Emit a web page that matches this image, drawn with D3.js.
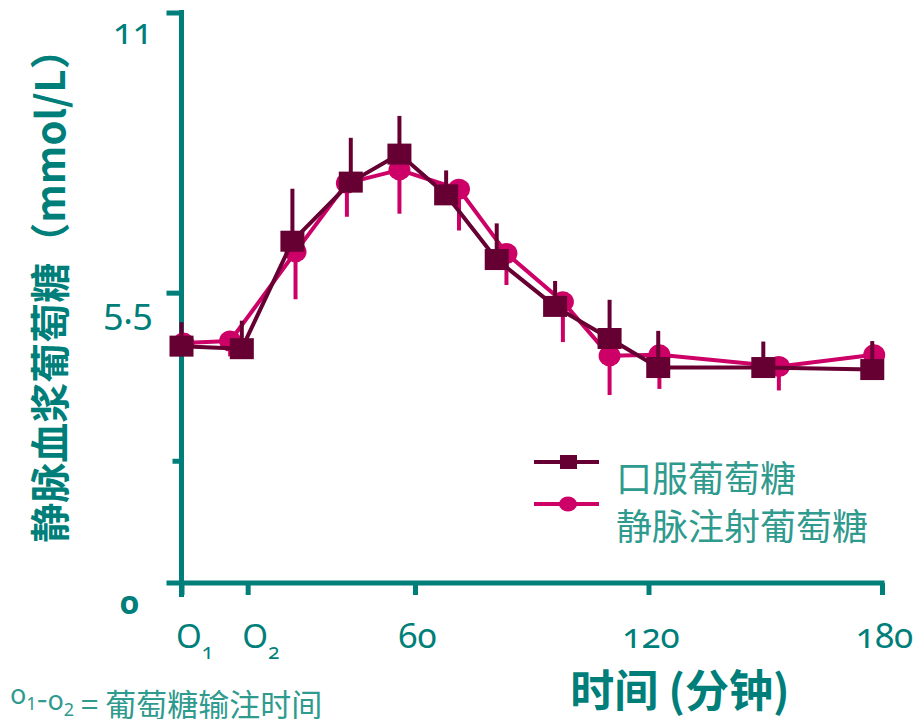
<!DOCTYPE html>
<html>
<head>
<meta charset="utf-8">
<script src="https://cdn.jsdelivr.net/npm/d3@7/dist/d3.min.js"></script>
<style>
  html, body { margin: 0; padding: 0; background: #ffffff; }
  svg { display: block; }
  .num { font-family: "Noto Sans", "Open Sans", sans-serif; font-feature-settings: "onum" 1; font-variant-numeric: oldstyle-nums; }
  .cjk { font-family: "Noto Sans CJK SC", "Noto Sans", sans-serif; }
</style>
</head>
<body>
<svg id="chart" width="916" height="719"></svg>
<script>
// Venous plasma glucose over time: oral glucose vs. intravenous glucose
const seriesNames = ["口服葡萄糖", "静脉注射葡萄糖"];

// Oral glucose (minutes, mmol/L, upward error)
const oralTime  = [0, 15.5, 28.5, 43.5, 56, 68, 81, 96, 110, 122.5, 149.5, 177.5];
const oralValue = [4.45, 4.40, 6.51, 7.67, 8.22, 7.42, 6.15, 5.23, 4.60, 4.03, 4.03, 3.99];
const oralError = [0.47, 0.55, 1.03, 0.87, 0.75, 0.48, 0.71, 0.50, 0.76, 0.72, 0.51, 0.56];

// Intravenous glucose (minutes, mmol/L, downward error)
const ivTime  = [0.5, 12.5, 29.3, 42.5, 56, 71.3, 83.5, 98, 110, 122.8, 153.5, 178];
const ivValue = [4.51, 4.55, 6.30, 7.65, 7.91, 7.53, 6.27, 5.32, 4.26, 4.28, 4.05, 4.28];
const ivError = [0.25, 0.30, 0.93, 0.66, 0.86, 0.81, 0.62, 0.79, 0.77, 0.67, 0.47, 0.30];

// Axis ticks
const xTickValues = [0, 17, 60, 120, 180];
const xTickLabels = ["O_1", "O_2", "60", "120", "180"];
const yTickValues = [2.2, 5.5, 11];
const yTickLabels = ["", "5.5", "11"];
const yFloor = -0.2;

const axisTitleY = "静脉血浆葡萄糖（mmol/L）";
const axisTitleX = "时间 (分钟)";
const infusionNote = ["o_1", "-", "o_2", " = ", "葡萄糖输注时间"];

const teal = "#007f7a";
const noteTeal = "#2f9a8e";
const colOral = "#660033";
const colIv = "#cc0066";

const svg = d3.select("#chart");
svg.append("rect").attr("width", 916).attr("height", 719).attr("fill", "#fff");

const x = d3.scaleLinear().domain([0, 180]).range([181.5, 882]);
const y = d3.scaleLinear().domain([yFloor, 11]).range([583, 12.5]);

const oral = oralTime.map((t, i) => ({ t, v: oralValue[i], e: oralError[i] }));
const iv = ivTime.map((t, i) => ({ t, v: ivValue[i], e: ivError[i] }));

// ---- axes ----
const axes = svg.append("g");
const x0 = x(0), yBase = y(yFloor);

// y axis line (runs slightly below the x axis)
axes.append("line").attr("x1", x0).attr("x2", x0).attr("y1", y(11) - 2.5).attr("y2", yBase + 14)
  .attr("stroke", teal).attr("stroke-width", 5);
// x axis line (starts slightly left of the y axis)
axes.append("line").attr("x1", x0 - 15).attr("x2", x(180) + 2.5).attr("y1", yBase).attr("y2", yBase)
  .attr("stroke", teal).attr("stroke-width", 5);

// y ticks
const yAxis = d3.axisLeft(y).tickValues(yTickValues).tickSize(15).tickSizeOuter(0).tickFormat("");
const gy = axes.append("g").attr("transform", `translate(${x0},0)`).call(yAxis);
gy.select(".domain").remove();
gy.selectAll(".tick line").attr("stroke", teal).attr("stroke-width", 5)
  .attr("x2", (d, i) => yTickLabels[i] === "" ? -9 : -15);

gy.selectAll(".tick").append("text")
  .attr("class", "num")
  .attr("x", -29).attr("dy", 31)
  .attr("text-anchor", "end")
  .attr("fill", teal).attr("font-size", 36)
  .text((d, i) => yTickLabels[i]);

// x ticks
const xAxis = d3.axisBottom(x).tickValues(xTickValues).tickSize(12).tickSizeOuter(0).tickFormat("");
const gx = axes.append("g").attr("transform", `translate(0,${yBase})`).call(xAxis);
gx.select(".domain").remove();
gx.selectAll(".tick line").attr("stroke", teal).attr("stroke-width", 5);

// tick labels, "A_b" is drawn with b as a subscript
function writeLabel(sel, label, subSize, subDy) {
  const parts = label.split("_");
  sel.append("tspan").text(parts[0]);
  if (parts.length > 1) {
    sel.append("tspan").attr("font-size", subSize).attr("dy", subDy).text(parts[1]);
    sel.append("tspan").attr("dy", -subDy).text("");
  }
}
gx.selectAll(".tick").each(function (d, i) {
  const lbl = xTickLabels[i];
  const t = d3.select(this).append("text")
    .attr("class", "num")
    .attr("y", 65)
    .attr("fill", teal).attr("font-size", 35);
  if (lbl.includes("_")) {
    t.attr("x", -6).attr("text-anchor", "start").attr("font-size", 33);
  } else {
    t.attr("x", 2).attr("text-anchor", "middle");
  }
  writeLabel(t, lbl, 21, 11);
});

// origin label
axes.append("text").attr("class", "num")
  .attr("x", x0 - 52).attr("y", yBase + 31)
  .attr("text-anchor", "middle")
  .attr("fill", teal).attr("font-size", 33).attr("font-weight", "bold")
  .text("0");

// axis titles
axes.append("text").attr("class", "cjk")
  .attr("transform", `translate(65,286) rotate(-90)`)
  .attr("text-anchor", "middle")
  .attr("fill", teal).attr("font-size", 40).attr("font-weight", "bold")
  .text(axisTitleY);

axes.append("text").attr("class", "cjk")
  .attr("x", 680).attr("y", 707)
  .attr("text-anchor", "middle")
  .attr("fill", teal).attr("font-size", 44).attr("font-weight", "bold")
  .text(axisTitleX);

// infusion window note
const note = svg.append("text").attr("class", "cjk")
  .attr("x", 10).attr("y", 704)
  .attr("fill", noteTeal).attr("font-size", 31);
infusionNote.forEach(p => {
  if (p.includes("_")) {
    const parts = p.split("_");
    note.append("tspan").attr("font-family", "Noto Sans").attr("font-size", 27).text(parts[0]);
    note.append("tspan").attr("font-family", "Noto Sans").attr("font-size", 18).attr("dy", 6).text(parts[1]);
    note.append("tspan").attr("dy", -6).text("");
  } else {
    note.append("tspan").text(p);
  }
});

// ---- series ----
const line = d3.line().x(d => x(d.t)).y(d => y(d.v));
const plot = svg.append("g");

// intravenous: line, markers, downward error bars
plot.append("path").datum(iv).attr("d", line)
  .attr("fill", "none").attr("stroke", colIv).attr("stroke-width", 4).attr("stroke-linejoin", "round");
plot.append("g").selectAll("line").data(iv).join("line")
  .attr("x1", d => x(d.t)).attr("x2", d => x(d.t))
  .attr("y1", d => y(d.v)).attr("y2", d => y(d.v - d.e))
  .attr("stroke", colIv).attr("stroke-width", 4);
plot.append("g").selectAll("ellipse").data(iv).join("ellipse")
  .attr("cx", d => x(d.t)).attr("cy", d => y(d.v))
  .attr("rx", 11).attr("ry", 10.5)
  .attr("fill", colIv);

// oral: line, markers, upward error bars
plot.append("path").datum(oral).attr("d", line)
  .attr("fill", "none").attr("stroke", colOral).attr("stroke-width", 4).attr("stroke-linejoin", "round");
plot.append("g").selectAll("line").data(oral).join("line")
  .attr("x1", d => x(d.t)).attr("x2", d => x(d.t))
  .attr("y1", d => y(d.v)).attr("y2", d => y(d.v + d.e))
  .attr("stroke", colOral).attr("stroke-width", 4);
plot.append("g").selectAll("rect").data(oral).join("rect")
  .attr("x", d => x(d.t) - 12).attr("y", d => y(d.v) - 10.5)
  .attr("width", 24).attr("height", 21)
  .attr("fill", colOral);

// ---- legend ----
const legend = svg.append("g").attr("transform", "translate(534,462)");
const legendRows = [
  { name: seriesNames[0], color: colOral, shape: "square" },
  { name: seriesNames[1], color: colIv, shape: "circle" }
];
legendRows.forEach((r, i) => {
  const g = legend.append("g").attr("transform", `translate(0,${i * 42})`);
  g.append("line").attr("x1", 0).attr("x2", 65).attr("stroke", r.color).attr("stroke-width", 4);
  if (r.shape === "square") {
    g.append("rect").attr("x", 26).attr("y", -7).attr("width", 17).attr("height", 14).attr("fill", r.color);
  } else {
    g.append("ellipse").attr("cx", 34).attr("cy", 0).attr("rx", 9).attr("ry", 7.5).attr("fill", r.color);
  }
  legend.append("text").attr("class", "cjk")
    .attr("x", 82).attr("y", 30 + i * 48)
    .attr("fill", noteTeal).attr("font-size", 36)
    .text(r.name);
});
</script>
</body>
</html>
